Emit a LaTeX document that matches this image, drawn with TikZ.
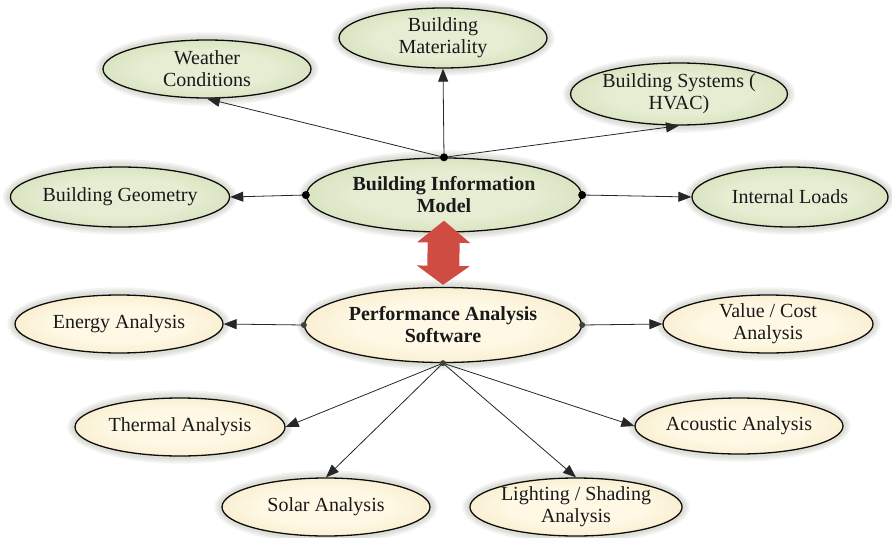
\documentclass[tikz,border=0pt]{standalone}
\usepackage{fontspec}
\setmainfont{Liberation Serif}
\usetikzlibrary{shapes.geometric,arrows.meta,calc,backgrounds}

\definecolor{grnin}{HTML}{E6EDD3}
\definecolor{grnout}{HTML}{B8CA8E}
\definecolor{bgin}{HTML}{FEF8E4}
\definecolor{bgout}{HTML}{ECD8A2}
\definecolor{linkred}{HTML}{CF4C43}
\definecolor{halo}{HTML}{5A6040}

\pgfdeclareradialshading{greenfill}{\pgfpointorigin}{color(0bp)=(grnin); color(16bp)=(grnin); color(50bp)=(grnout)}
\pgfdeclareradialshading{beigefill}{\pgfpointorigin}{color(0bp)=(bgin); color(16bp)=(bgin); color(50bp)=(bgout)}

\tikzset{
  bubble/.style={ellipse, draw=black!95, line width=1.3pt, inner sep=0pt,
    align=center, text=black!90, font=\fontsize{20}{22}\selectfont},
  grnbubble/.style={bubble, shade, shading=greenfill},
  bgbubble/.style={bubble, shade, shading=beigefill},
  hub/.style={font=\bfseries\fontsize{20}{22}\selectfont},
  conn/.style={draw=black!85, line width=0.8pt, -{Triangle[length=13pt,width=10pt]}},
  hubdot/.style={fill=black},
}

\begin{document}
\begin{tikzpicture}[x=1pt, y=-1pt]
\useasboundingbox (0,0) rectangle (892,538);

% model side
\node[grnbubble, minimum width=208pt, minimum height=58pt] (weather) at (207,69) {Weather\\Conditions};
\node[grnbubble, minimum width=208pt, minimum height=60pt] (materiality) at (443,38) {Building\\Materiality};
\node[grnbubble, minimum width=208pt, minimum height=62pt] (systems) at (679,94) {Building Systems (\\HVAC)};
\node[grnbubble, minimum width=206pt, minimum height=60pt] (geometry) at (120,197) {Building Geometry};
\node[grnbubble, hub, minimum width=275pt, minimum height=74pt] (bim) at (444,195) {Building Information\\Model};
\node[grnbubble, minimum width=196pt, minimum height=60pt] (internal) at (790,197) {Internal Loads};

% analysis side
\node[bgbubble, hub, minimum width=277pt, minimum height=75pt] (pas) at (443,325) {Performance Analysis\\Software};
\node[bgbubble, minimum width=208pt, minimum height=58pt] (energy) at (119,324) {Energy Analysis};
\node[bgbubble, minimum width=210pt, minimum height=58pt] (value) at (768,324) {Value / Cost\\Analysis};
\node[bgbubble, minimum width=210pt, minimum height=58pt] (thermal) at (180,427) {Thermal Analysis};
\node[bgbubble, minimum width=208pt, minimum height=56pt] (acoustic) at (739,426) {Acoustic Analysis};
\node[bgbubble, minimum width=208pt, minimum height=58pt] (solar) at (326,507) {Solar Analysis};
\node[bgbubble, minimum width=208pt, minimum height=58pt] (lighting) at (576,507) {Lighting / Shading\\Analysis};

% soft halo behind every bubble
\begin{scope}[on background layer]
\foreach \nd in {weather,materiality,systems,geometry,bim,internal,pas,energy,value,thermal,acoustic,solar,lighting}
  \foreach \k in {7,5,3}
    \fill[halo, opacity=0.07]
      let \p1=($(\nd.east)-(\nd.center)$), \p2=($(\nd.north)-(\nd.center)$) in
      (\nd.center) ellipse [x radius=\x1+\k pt, y radius=\y2+\k pt];
\end{scope}

% model links
\draw[conn] (bim.north) -- (weather.south);
\draw[conn] (bim.north) -- (materiality.south);
\draw[conn] (bim.north) -- (systems.south);
\draw[conn] (bim.west) -- (geometry.east);
\draw[conn] (bim.east) -- (internal.west);

% analysis links
\draw[conn] (pas.west) -- (energy.east);
\draw[conn] (pas.east) -- (value.west);
\draw[conn] (pas.south) -- (thermal.east);
\draw[conn] (pas.south) -- (solar.north);
\draw[conn] (pas.south) -- (lighting.north);
\draw[conn] (pas.south) -- (acoustic.west);

% exchange between model and software
\draw[linkred, line width=32pt,
  {Triangle[length=22pt 0 0, width=52pt 0 0]}-{Triangle[length=19pt 0 0, width=52pt 0 0]}]
  ($(bim.south)+(0,-12)$) -- ($(pas.north)+(0,-2)$);

% junction dots
\fill[hubdot] (bim.north) circle (4pt);
\fill[hubdot] (bim.west) circle (4pt);
\fill[hubdot] (bim.east) circle (4pt);
\fill[black!75] (pas.west) circle (3pt);
\fill[black!75] (pas.east) circle (3pt);
\fill[black!75] (pas.south) circle (3pt);
\end{tikzpicture}
\end{document}
